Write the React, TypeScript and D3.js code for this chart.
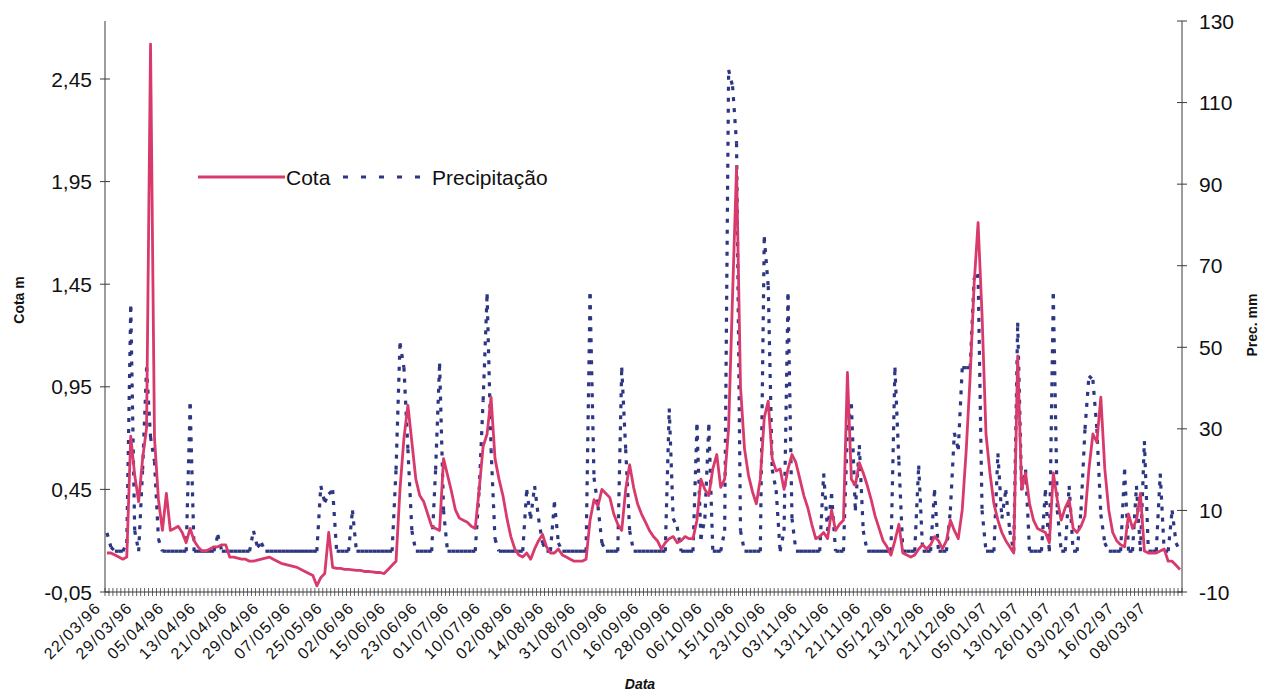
import React from "react";
import * as d3 from "d3";

// Category labels shown every 8th observation along the date axis
const tickLabels = [
  "22/03/96", "29/03/96", "05/04/96", "13/04/96", "21/04/96", "29/04/96",
  "07/05/96", "25/05/96", "02/06/96", "15/06/96", "23/06/96", "01/07/96",
  "10/07/96", "02/08/96", "14/08/96", "31/08/96", "07/09/96", "16/09/96",
  "28/09/96", "06/10/96", "15/10/96", "23/10/96", "03/11/96", "13/11/96",
  "21/11/96", "05/12/96", "13/12/96", "21/12/96", "05/01/97", "13/01/97",
  "26/01/97", "03/02/97", "16/02/97", "08/03/97",
];
const labelEvery = 8;

// Water level (m), one value per observation
const cota = [
  0.14, 0.14, 0.13, 0.12, 0.11, 0.12, 0.71, 0.52, 0.39, 0.6,
  0.75, 2.62, 0.7, 0.4, 0.25, 0.43, 0.25, 0.26, 0.27, 0.24,
  0.19, 0.26, 0.2, 0.17, 0.15, 0.15, 0.16, 0.17, 0.17, 0.18,
  0.18, 0.12, 0.12, 0.115, 0.11, 0.11, 0.1, 0.1, 0.105, 0.11,
  0.115, 0.12, 0.11, 0.1, 0.09, 0.085, 0.08, 0.075, 0.07, 0.06,
  0.05, 0.04, 0.03, -0.02, 0.02, 0.04, 0.24, 0.07, 0.065, 0.065,
  0.06, 0.06, 0.058, 0.055, 0.055, 0.05, 0.05, 0.048, 0.045, 0.045,
  0.04, 0.06, 0.08, 0.1, 0.45, 0.7, 0.86, 0.68, 0.5, 0.42,
  0.39, 0.33, 0.27, 0.26, 0.25, 0.6, 0.52, 0.44, 0.35, 0.31,
  0.3, 0.29, 0.27, 0.26, 0.45, 0.66, 0.72, 0.9, 0.6, 0.5,
  0.42, 0.31, 0.22, 0.16, 0.13, 0.12, 0.14, 0.11, 0.16, 0.2,
  0.23, 0.17, 0.14, 0.14, 0.16, 0.13, 0.12, 0.11, 0.1, 0.1,
  0.1, 0.11, 0.3, 0.4, 0.37, 0.45, 0.43, 0.41, 0.33, 0.28,
  0.25, 0.45, 0.57, 0.46, 0.38, 0.33, 0.29, 0.25, 0.22, 0.2,
  0.16, 0.19, 0.21, 0.22, 0.19, 0.2, 0.22, 0.21, 0.21, 0.3,
  0.5, 0.45, 0.42, 0.55, 0.62, 0.46, 0.5, 0.75, 1.4, 2.02,
  0.95, 0.65, 0.52, 0.44, 0.38, 0.5, 0.8, 0.88, 0.6, 0.54,
  0.55, 0.45, 0.55, 0.62, 0.58, 0.5, 0.42, 0.36, 0.28, 0.21,
  0.22, 0.24, 0.21, 0.35, 0.25, 0.28, 0.3, 1.02, 0.5, 0.47,
  0.58, 0.53, 0.47, 0.4, 0.32, 0.26, 0.2, 0.17, 0.13, 0.2,
  0.28, 0.14, 0.13, 0.12, 0.13, 0.16, 0.18, 0.16, 0.18, 0.22,
  0.2, 0.16, 0.2, 0.3, 0.25, 0.21, 0.35, 0.64, 1.0, 1.45,
  1.75, 1.3, 0.72, 0.53, 0.38, 0.3, 0.24, 0.2, 0.17, 0.14,
  1.1, 0.45, 0.53, 0.38, 0.3, 0.26, 0.25, 0.24, 0.19, 0.53,
  0.4, 0.3, 0.36, 0.4, 0.26, 0.24, 0.27, 0.32, 0.55, 0.72,
  0.68, 0.9, 0.55, 0.35, 0.24, 0.2, 0.18, 0.17, 0.33, 0.26,
  0.3, 0.43, 0.15, 0.14, 0.14, 0.14, 0.15, 0.16, 0.1, 0.1,
  0.08, 0.06,
];

// Daily rainfall (mm), one value per observation
const precipitacao = [
  4.5, 1, 0, 0, 0, 2, 60, 5, 0, 20,
  45, 28, 22, 3, 0, 0, 0, 0, 0, 0,
  0, 36, 0, 0, 0, 0, 0, 0, 4, 0,
  0, 0, 0, 0, 0, 0, 0, 5, 1, 2,
  0, 0, 0, 0, 0, 0, 0, 0, 0, 0,
  0, 0, 0, 0, 16, 12, 14, 15, 0, 0,
  0, 0, 10, 0, 0, 0, 0, 0, 0, 0,
  0, 0, 0, 20, 51, 45, 25, 5, 0, 0,
  0, 0, 0, 20, 46, 10, 0, 0, 0, 0,
  0, 0, 0, 0, 15, 37, 63, 25, 3, 0,
  0, 0, 0, 0, 0, 0, 15, 8, 16, 8,
  2, 0, 0, 12, 2, 0, 0, 0, 0, 0,
  0, 0, 63, 18, 11, 2, 0, 0, 0, 0,
  45, 25, 5, 0, 0, 0, 0, 0, 0, 0,
  0, 0, 35, 8, 6, 0, 0, 0, 0, 31,
  3, 8, 31, 0, 0, 0, 5, 118, 114, 100,
  5, 0, 0, 0, 0, 0, 77, 65, 20, 15,
  0, 5, 63, 8, 0, 0, 0, 0, 0, 0,
  0, 19, 5, 14, 0, 0, 0, 30, 36, 10,
  26, 5, 0, 0, 0, 0, 0, 0, 0, 45,
  22, 0, 0, 0, 0, 21, 0, 0, 0, 15,
  0, 0, 0, 10, 29, 25, 45, 45, 45, 67,
  68, 10, 0, 0, 0, 24, 8, 15, 5, 0,
  56, 15, 20, 0, 0, 0, 0, 15, 0, 63,
  10, 0, 0, 16, 0, 0, 10, 30, 43, 42,
  30, 9, 2, 0, 0, 0, 0, 20, 0, 0,
  16, 0, 27, 0, 0, 0, 19, 0, 0, 10,
  2, 0,
];

const cotaTicks = [-0.05, 0.45, 0.95, 1.45, 1.95, 2.45];
const precTicks = [-10, 10, 30, 50, 70, 90, 110, 130];

const RED = "#d93a6c";
const BLUE = "#2c3682";
const AXIS = "#3a3a3a";
const FONT = "'Liberation Sans', Arial, Helvetica, sans-serif";

const W = 1261;
const H = 693;
const left = 105;
const right = 1182;
const top = 21;
const bottom = 592;

export default function App() {
  const n = cota.length;
  const x = d3
    .scaleBand<number>()
    .domain(d3.range(n))
    .range([left, right])
    .paddingInner(0)
    .paddingOuter(0);
  const bw = x.bandwidth();
  const cx = (i: number) => (x(i) as number) + bw / 2;

  const yL = d3.scaleLinear().domain([-0.05, 2.45]).range([bottom, 79]);
  const yR = d3.scaleLinear().domain([-10, 130]).range([bottom, top]);

  const fmtCota = (v: number) => d3.format(".2f")(v).replace(".", ",").replace("−", "-");

  const cotaPath = d3
    .line<number>()
    .x((_, i) => cx(i))
    .y((d) => yL(d))(cota) as string;

  // Each rainfall segment is stroked on its own so the dash pattern restarts per step
  const segLine = d3
    .line<[number, number]>()
    .x((d) => d[0])
    .y((d) => d[1]);
  const precSegments = precipitacao.slice(1).map((v, k) =>
    segLine([
      [cx(k), yR(precipitacao[k])],
      [cx(k + 1), yR(v)],
    ]) as string
  );

  const boundaries = d3.range(n + 1).map((i) => left + i * bw);

  return (
    <svg
      width={W}
      height={H}
      style={{ position: "absolute", left: 0, top: 0, background: "#fff" }}
      fontFamily={FONT}
    >
      <rect x={0} y={0} width={W} height={H} fill="#fff" />

      {/* series */}
      <g>
        {precSegments.map((d, i) => (
          <path
            key={i}
            d={d}
            fill="none"
            stroke={BLUE}
            strokeWidth={3.2}
            strokeDasharray="4 7"
          />
        ))}
      </g>
      <path d={cotaPath} fill="none" stroke={RED} strokeWidth={2.8} strokeLinejoin="round" />

      {/* left axis */}
      <line x1={left} x2={left} y1={top} y2={bottom} stroke={AXIS} strokeWidth={1} />
      {cotaTicks.map((t) => (
        <g key={t} transform={`translate(0,${yL(t)})`}>
          <line x1={left - 5} x2={left + 5} stroke={AXIS} />
          <text x={92} dy="0.36em" textAnchor="end" fontSize={21} fill="#111">
            {fmtCota(t)}
          </text>
        </g>
      ))}
      <text
        transform={`translate(24,300) rotate(-90)`}
        textAnchor="middle"
        fontSize={14}
        fontWeight="bold"
        fill="#111"
      >
        Cota m
      </text>

      {/* right axis */}
      <line x1={right} x2={right} y1={top} y2={bottom} stroke={AXIS} strokeWidth={1} />
      {precTicks.map((t) => (
        <g key={t} transform={`translate(0,${yR(t)})`}>
          <line x1={right - 5} x2={right + 5} stroke={AXIS} />
          <text x={1199} dy="0.36em" textAnchor="start" fontSize={21} fill="#111">
            {t}
          </text>
        </g>
      ))}
      <text
        transform={`translate(1257,325) rotate(-90)`}
        textAnchor="middle"
        fontSize={14}
        fontWeight="bold"
        fill="#111"
      >
        Prec. mm
      </text>

      {/* category axis */}
      <line x1={left} x2={right} y1={bottom} y2={bottom} stroke={AXIS} strokeWidth={1} />
      {boundaries.map((bx, i) => (
        <line key={i} x1={bx} x2={bx} y1={bottom - 4} y2={bottom + 4} stroke={AXIS} strokeWidth={0.8} />
      ))}
      {tickLabels.map((lab, k) => {
        const i = k * labelEvery;
        return (
          <text
            key={lab}
            transform={`translate(${cx(i) - 9},${bottom + 13}) rotate(-45)`}
            textAnchor="end"
            dominantBaseline="central"
            fontSize={16}
            letterSpacing={1.3}
            fill="#111"
          >
            {lab}
          </text>
        );
      })}
      <text x={640} y={689} textAnchor="middle" fontSize={14} fontWeight="bold" fontStyle="italic" fill="#111">
        Data
      </text>

      {/* legend */}
      <g transform="translate(0,177)">
        <line x1={198} x2={285} stroke={RED} strokeWidth={2.8} />
        <text x={286} dy="0.36em" fontSize={21} fill="#111">Cota</text>
        <line x1={343} x2={430} stroke={BLUE} strokeWidth={3.2} strokeDasharray="5 13" />
        <text x={432} dy="0.36em" fontSize={21} fill="#111">Precipitação</text>
      </g>
    </svg>
  );
}
